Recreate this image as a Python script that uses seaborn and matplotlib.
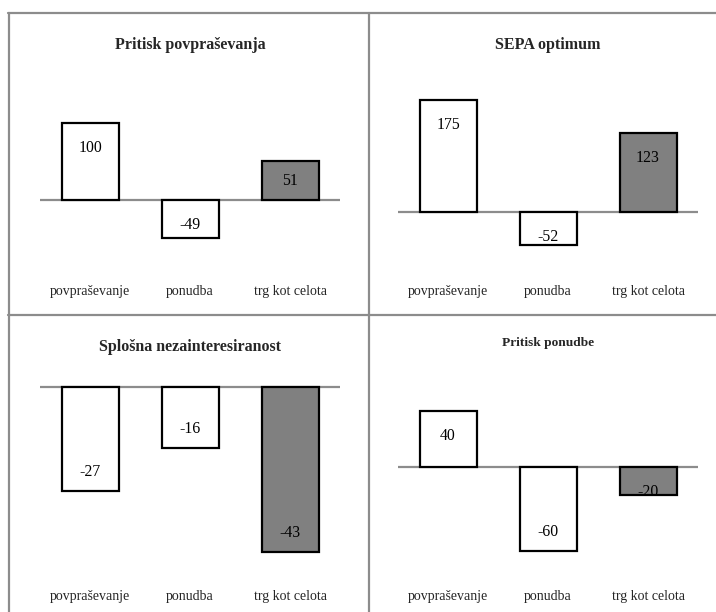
import numpy as np
import pandas as pd
import matplotlib
matplotlib.use("Agg")
import matplotlib.pyplot as plt
from matplotlib.lines import Line2D
import seaborn as sns

# --- data -------------------------------------------------------------
categories = ["povpraševanje", "ponudba", "trg kot celota"]

titles = ["Pritisk povpraševanja", "SEPA optimum",
          "Splošna nezainteresiranost", "Pritisk ponudbe"]

pritisk_povprasevanja = [100, -49, 51]
sepa_optimum = [175, -52, 123]
splosna_nezainteresiranost = [-27, -16, -43]
pritisk_ponudbe = [40, -60, -20]

panel_values = [pritisk_povprasevanja, sepa_optimum,
                splosna_nezainteresiranost, pritisk_ponudbe]

bar_colors = ["#ffffff", "#ffffff", "#808080"]

# --- style ------------------------------------------------------------
sns.set_style("white")
plt.rcParams["font.family"] = ["Liberation Serif", "DejaVu Serif"]

W, H, DPI = 716, 612, 100
fig = plt.figure(figsize=(W / DPI, H / DPI), dpi=DPI)
fig.patch.set_facecolor("white")


def px_box(x0, y0, x1, y1):
    """Pixel box (top-left origin) -> figure fraction rect."""
    return [x0 / W, 1 - y1 / H, (x1 - x0) / W, (y1 - y0) / H]


# Panel layout: axes box in pixels, zero-line row, pixels per unit,
# title position and title size.
layouts = [
    dict(box=(40, 70, 340, 280), zero=200, scale=0.77, title_y=45, title_fs=11.5),
    dict(box=(398, 70, 698, 280), zero=212, scale=0.64, title_y=45, title_fs=11.5),
    dict(box=(40, 370, 340, 585), zero=387, scale=3.84, title_y=347, title_fs=11.5),
    dict(box=(398, 370, 698, 585), zero=467, scale=1.40, title_y=343, title_fs=9.6),
]

line_grey = "#8c8c8c"

for title, values, lay in zip(titles, panel_values, layouts):
    x0, y0, x1, y1 = lay["box"]
    ax = fig.add_axes(px_box(x0, y0, x1, y1))
    df = pd.DataFrame({"kategorija": categories, "vrednost": values})
    sns.barplot(data=df, x="kategorija", y="vrednost", hue="kategorija",
                palette=bar_colors, order=categories, hue_order=categories,
                edgecolor="black", linewidth=1.6, width=0.57,
                legend=False, ax=ax, saturation=1)

    s = lay["scale"]
    ymax = (lay["zero"] - y0) / s
    ymin = -(y1 - lay["zero"]) / s
    ax.set_ylim(ymin, ymax)
    ax.set_xlim(-0.5, 2.5)
    ax.axhline(0, color=line_grey, lw=1.6, zorder=0.5)

    for sp in ax.spines.values():
        sp.set_visible(False)
    ax.set_yticks([])
    ax.set_xlabel("")
    ax.set_ylabel("")
    ax.tick_params(axis="x", length=0, pad=3.6, labelsize=10)
    ax.set_facecolor("none")

    # value labels inside the bar end, kept clear of the zero line
    inset = 22 / s
    for i, v in enumerate(values):
        d = max(abs(v) - inset, inset)
        ax.annotate(f"{v}", (i, np.sign(v) * d), xytext=(0, -3),
                    textcoords="offset pixels", ha="center", va="center",
                    fontsize=11.3, color="black")

    fig.text(((x0 + x1) / 2) / W, 1 - lay["title_y"] / H, title,
             ha="center", va="center", fontsize=lay["title_fs"],
             fontweight="bold")

# --- panel frame lines ------------------------------------------------
def fig_line(xs, ys):
    fig.add_artist(Line2D([x / W for x in xs], [1 - y / H for y in ys],
                          color=line_grey, lw=1.6,
                          transform=fig.transFigure))

fig_line([8, W], [13, 13])
fig_line([8, W], [315, 315])
fig_line([8.5, 8.5], [13, H])
fig_line([369, 369], [13, H])

fig.savefig("out.png", dpi=DPI, facecolor="white")
